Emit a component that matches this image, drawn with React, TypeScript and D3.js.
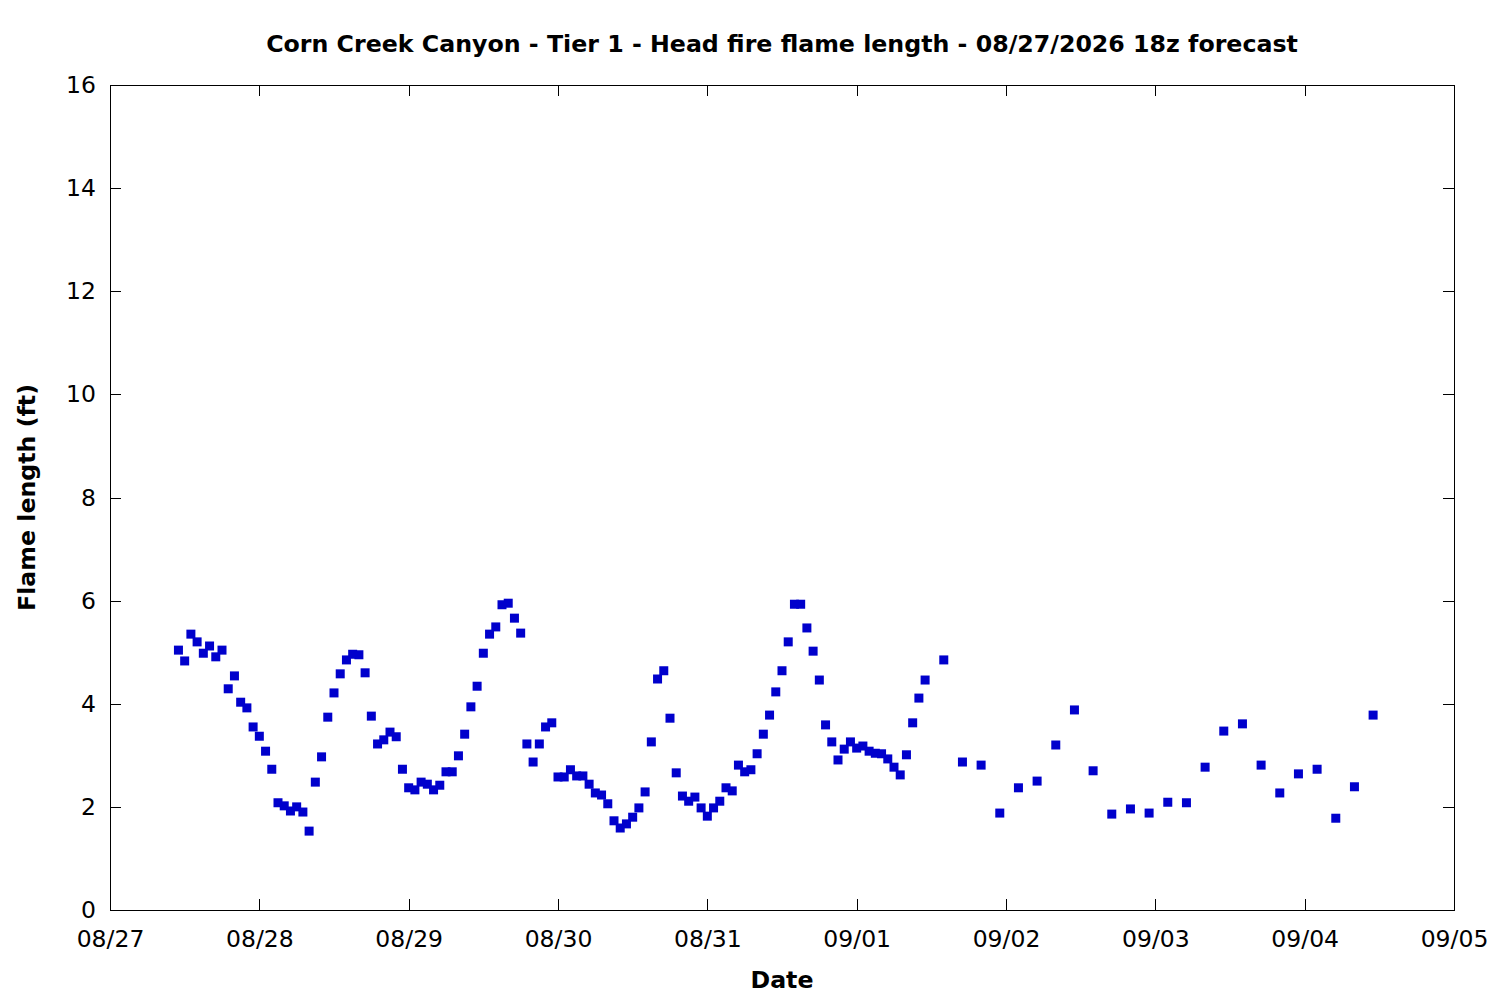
import { useEffect, useRef } from "react";
import * as React from "react";
import {
  ScaleLinear,
  ScaleTime,
  axisBottom,
  axisLeft,
  axisRight,
  axisTop,
  scaleLinear,
  scaleTime,
  select,
  timeDay,
  timeFormat,
} from "d3";

const title =
  "Corn Creek Canyon - Tier 1 - Head fire flame length - 08/27/2026 18z forecast";
const xLabel = "Date";
const yLabel = "Flame length (ft)";

// forecast start and end of the time axis
const axisStart = new Date(2026, 7, 27);
const axisEnd = new Date(2026, 8, 5);

// hourly output, first value at 08/27 11:00
const hourlyStartHour = 11;
const hourlyValues = [
  5.04, 4.83, 5.35, 5.2, 4.98, 5.12, 4.91, 5.04, 4.29, 4.54,
  4.03, 3.92, 3.55, 3.37, 3.08, 2.73, 2.08, 2.02, 1.92, 2.0,
  1.9, 1.53, 2.48, 2.97, 3.74, 4.21, 4.58, 4.85, 4.96, 4.95,
  4.6, 3.76, 3.22, 3.3, 3.45, 3.36, 2.73, 2.37, 2.33, 2.48,
  2.44, 2.33, 2.42, 2.68, 2.68, 2.99, 3.41, 3.94, 4.34, 4.98,
  5.35, 5.49, 5.92, 5.95, 5.66, 5.37, 3.22, 2.87, 3.22, 3.55,
  3.63, 2.58, 2.58, 2.72, 2.6, 2.6, 2.44, 2.27, 2.23, 2.06,
  1.73, 1.59, 1.67, 1.8, 1.98, 2.29, 3.26, 4.48, 4.64, 3.72,
  2.66, 2.21, 2.11, 2.19, 1.98, 1.82, 1.98, 2.11, 2.37, 2.31,
  2.81, 2.68, 2.72, 3.03, 3.41, 3.78, 4.23, 4.64, 5.2, 5.93,
  5.93, 5.47, 5.02, 4.46, 3.59, 3.26, 2.91, 3.12, 3.26, 3.14,
  3.18, 3.08, 3.04, 3.03, 2.93, 2.77, 2.62, 3.01, 3.63, 4.11,
  4.46,
];

// 3-hourly output, first value at 09/01 14:00
const threeHourlyStartHour = 134;
const threeHourlyValues = [
  4.85, 2.87, 2.81, 1.88, 2.37, 2.5, 3.2, 3.88, 2.7, 1.86, 1.96, 1.88,
  2.09, 2.08, 2.77, 3.47, 3.61, 2.81, 2.27, 2.64, 2.73, 1.78, 2.39, 3.78,
];

const yTicks = [0, 2, 4, 6, 8, 10, 12, 14, 16];

const FONT = "'DejaVu Sans', Verdana, sans-serif";
const TICK_FONT_SIZE = 23.5;
const LABEL_FONT_SIZE = 23.7;
const TICK = 11;
const MARKER = 9;
const COLOR = "#0000cc";

interface Point {
  date: Date;
  value: number;
}

function hoursToDate(h: number) {
  return new Date(axisStart.getTime() + h * 3600 * 1000);
}

const points: Point[] = [
  ...hourlyValues.map((value, i) => ({
    date: hoursToDate(hourlyStartHour + i),
    value,
  })),
  ...threeHourlyValues.map((value, i) => ({
    date: hoursToDate(threeHourlyStartHour + i * 3),
    value,
  })),
];

function styleAxis(g) {
  g.select(".domain").remove();
  g.selectAll("line").attr("stroke", "#000").attr("shape-rendering", "crispEdges");
  g.selectAll("text")
    .attr("fill", "#000")
    .style("font-family", FONT)
    .style("font-size", `${TICK_FONT_SIZE}px`);
}

function XAxes(props: { scale: ScaleTime<number, number>; height: number }) {
  const { scale, height } = props;
  const bottomRef = useRef<SVGGElement>(null);
  const topRef = useRef<SVGGElement>(null);

  useEffect(() => {
    const ticks = timeDay.every(1);
    if (bottomRef.current) {
      select(bottomRef.current)
        .call(
          axisBottom(scale)
            .ticks(ticks)
            .tickFormat(timeFormat("%m/%d"))
            .tickSizeInner(-TICK)
            .tickSizeOuter(0)
            .tickPadding(20)
        )
        .call(styleAxis);
    }
    if (topRef.current) {
      select(topRef.current)
        .call(
          axisTop(scale)
            .ticks(ticks)
            .tickFormat(() => "")
            .tickSizeInner(-TICK)
            .tickSizeOuter(0)
        )
        .call(styleAxis);
    }
  }, [scale]);

  return (
    <>
      <g ref={bottomRef} transform={`translate(0, ${height})`} />
      <g ref={topRef} />
    </>
  );
}

function YAxes(props: { scale: ScaleLinear<number, number>; width: number }) {
  const { scale, width } = props;
  const leftRef = useRef<SVGGElement>(null);
  const rightRef = useRef<SVGGElement>(null);

  useEffect(() => {
    if (leftRef.current) {
      select(leftRef.current)
        .call(
          axisLeft(scale)
            .tickValues(yTicks)
            .tickSizeInner(-TICK)
            .tickSizeOuter(0)
            .tickPadding(14)
        )
        .call(styleAxis);
    }
    if (rightRef.current) {
      select(rightRef.current)
        .call(
          axisRight(scale)
            .tickValues(yTicks)
            .tickFormat(() => "")
            .tickSizeInner(-TICK)
            .tickSizeOuter(0)
        )
        .call(styleAxis);
    }
  }, [scale]);

  return (
    <>
      <g ref={leftRef} />
      <g ref={rightRef} transform={`translate(${width}, 0)`} />
    </>
  );
}

export default function App() {
  const width = 1500;
  const height = 1000;
  const margin = { top: 85, right: 46, bottom: 90, left: 110 };
  const _width = width - margin.left - margin.right;
  const _height = height - margin.top - margin.bottom;

  const scaleX = scaleTime().domain([axisStart, axisEnd]).range([0, _width]);
  const scaleY = scaleLinear().domain([0, 16]).range([_height, 0]);

  return (
    <svg
      width={width}
      height={height}
      style={{ position: "absolute", left: 0, top: 0, background: "#fff" }}
    >
      <text
        x={margin.left + _width / 2}
        y={52}
        textAnchor="middle"
        fontFamily={FONT}
        fontWeight="bold"
        fontSize={LABEL_FONT_SIZE}
      >
        {title}
      </text>
      <text
        x={margin.left + _width / 2}
        y={988}
        textAnchor="middle"
        fontFamily={FONT}
        fontWeight="bold"
        fontSize={LABEL_FONT_SIZE}
      >
        {xLabel}
      </text>
      <text
        transform={`translate(35, ${margin.top + _height / 2}) rotate(-90)`}
        textAnchor="middle"
        fontFamily={FONT}
        fontWeight="bold"
        fontSize={LABEL_FONT_SIZE}
      >
        {yLabel}
      </text>
      <g transform={`translate(${margin.left}, ${margin.top})`}>
        <XAxes scale={scaleX} height={_height} />
        <YAxes scale={scaleY} width={_width} />
        <rect
          x={0.5}
          y={0.5}
          width={_width}
          height={_height}
          fill="none"
          stroke="#000"
          strokeWidth={1}
          shapeRendering="crispEdges"
        />
        {points.map((p, i) => (
          <rect
            key={`pt-${i}`}
            x={scaleX(p.date) - MARKER / 2}
            y={scaleY(p.value) - MARKER / 2}
            width={MARKER}
            height={MARKER}
            fill={COLOR}
          />
        ))}
      </g>
    </svg>
  );
}
